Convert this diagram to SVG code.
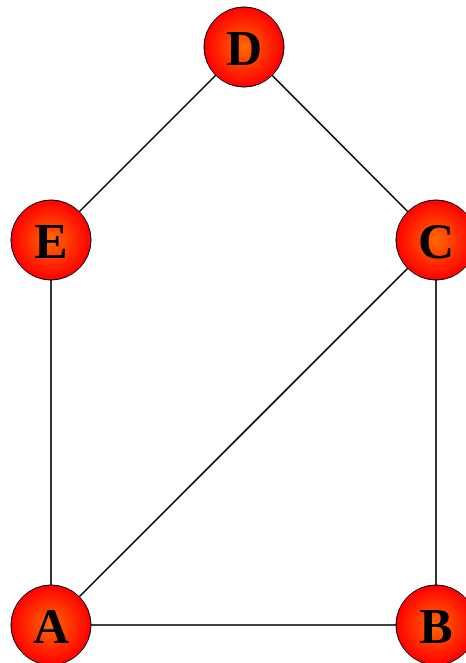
<svg xmlns="http://www.w3.org/2000/svg" width="466" height="663" viewBox="0 0 466 663">
<defs>
<radialGradient id="g" cx="50%" cy="50%" r="50%">
<stop offset="0" stop-color="#ff6a00"/>
<stop offset="1" stop-color="#ff0000"/>
</radialGradient>
<style>
.n{fill:url(#g);stroke:#000;stroke-width:1}
.t{font-family:"Liberation Serif",serif;font-weight:bold;font-size:50px;text-anchor:middle;fill:#000}
.e{stroke:#000;stroke-width:1.6;fill:none}
</style>
</defs>
<rect width="466" height="663" fill="#fff"/>
<g id="edges">
<line class="e" x1="244" y1="47" x2="51" y2="240"/>
<line class="e" x1="244" y1="47" x2="436" y2="240"/>
<line class="e" x1="51" y1="240" x2="51" y2="625"/>
<line class="e" x1="436" y1="240" x2="51" y2="625"/>
<line class="e" x1="436" y1="240" x2="436" y2="625"/>
<line class="e" x1="51" y1="625" x2="436" y2="625"/>
</g>
<g id="D"><circle class="n" cx="244" cy="47" r="40"/><text class="t" x="244" y="65">D</text></g>
<g id="E"><circle class="n" cx="51" cy="240" r="40"/><text class="t" x="51" y="258">E</text></g>
<g id="C"><circle class="n" cx="436" cy="240" r="40"/><text class="t" x="436" y="258">C</text></g>
<g id="A"><circle class="n" cx="51" cy="625" r="40"/><text class="t" x="51" y="643">A</text></g>
<g id="B"><circle class="n" cx="436" cy="625" r="40"/><text class="t" x="436" y="643">B</text></g>
</svg>
